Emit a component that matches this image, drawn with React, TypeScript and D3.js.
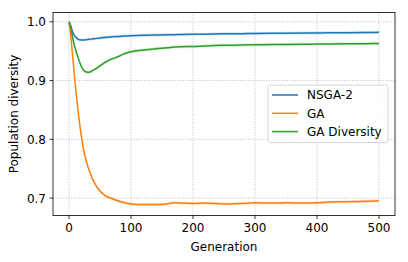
import React, { useRef, useEffect } from "react";
import * as d3 from "d3";

const generations = [0, 3, 6, 10, 15, 20, 25, 30, 35, 40, 50, 60, 70, 80, 90, 100, 120, 140, 160, 170, 180, 200, 220, 250, 280, 300, 330, 350, 380, 400, 420, 450, 480, 500];

const nsga2 = [1.0, 0.993, 0.982, 0.975, 0.970, 0.969, 0.9692, 0.9698, 0.9705, 0.971, 0.9725, 0.9735, 0.9745, 0.975, 0.9757, 0.9762, 0.977, 0.9775, 0.978, 0.978, 0.9783, 0.9787, 0.979, 0.9795, 0.9798, 0.98, 0.9803, 0.9805, 0.9808, 0.981, 0.9812, 0.9815, 0.9818, 0.982];

const ga = [1.0, 0.975, 0.94, 0.895, 0.845, 0.805, 0.775, 0.755, 0.74, 0.728, 0.712, 0.703, 0.699, 0.695, 0.692, 0.690, 0.689, 0.689, 0.6905, 0.692, 0.6915, 0.691, 0.6915, 0.690, 0.691, 0.692, 0.6915, 0.692, 0.6915, 0.692, 0.6935, 0.694, 0.6945, 0.6955];

const gaDiversity = [1.0, 0.99, 0.972, 0.955, 0.938, 0.924, 0.916, 0.914, 0.915, 0.918, 0.925, 0.932, 0.937, 0.941, 0.946, 0.949, 0.952, 0.954, 0.956, 0.957, 0.9575, 0.958, 0.959, 0.96, 0.9605, 0.961, 0.9612, 0.9615, 0.9618, 0.962, 0.9622, 0.9625, 0.9628, 0.963];

const seriesNames = ["NSGA-2", "GA", "GA Diversity"];
const seriesColors = ["#1f77b4", "#ff7f0e", "#2ca02c"];
const xTicks = [0, 100, 200, 300, 400, 500];
const yTicks = [0.7, 0.8, 0.9, 1.0];

const App = () => {
  const ref = useRef<SVGSVGElement>(null);

  useEffect(() => {
    const svg = d3.select(ref.current);
    svg.selectAll("*").remove();

    const left = 53, right = 395, top = 12.5, bottom = 215.5;
    const x = d3.scaleLinear().domain([-25.8, 525.8]).range([left, right]);
    const y = d3.scaleLinear().domain([0.6704, 1.0158]).range([bottom, top]);

    const font = "DejaVu Sans, sans-serif";
    const fs = 12;

    // grid
    const grid = svg.append("g");
    xTicks.forEach((t) => {
      grid.append("line")
        .attr("x1", x(t)).attr("x2", x(t))
        .attr("y1", top).attr("y2", bottom)
        .attr("stroke", "#b0b0b0").attr("stroke-width", 0.8)
        .attr("stroke-dasharray", "1,1.6");
    });
    yTicks.forEach((t) => {
      grid.append("line")
        .attr("x1", left).attr("x2", right)
        .attr("y1", y(t)).attr("y2", y(t))
        .attr("stroke", "#b0b0b0").attr("stroke-width", 0.8)
        .attr("stroke-dasharray", "1,1.6");
    });

    const all = [nsga2, ga, gaDiversity];
    all.forEach((vals, i) => {
      const pts = generations.map((g, j) => [g, vals[j]] as [number, number]);
      const band = d3.area<[number, number]>()
        .x((d) => x(d[0]))
        .y0((d) => y(d[1] - 0.0025))
        .y1((d) => y(d[1] + 0.0025))
        .curve(d3.curveMonotoneX);
      svg.append("path").attr("d", band(pts))
        .attr("fill", seriesColors[i]).attr("opacity", 0.2);
      const line = d3.line<[number, number]>()
        .x((d) => x(d[0])).y((d) => y(d[1]))
        .curve(d3.curveMonotoneX);
      svg.append("path").attr("d", line(pts))
        .attr("fill", "none").attr("stroke", seriesColors[i])
        .attr("stroke-width", 1.5);
    });

    // spines
    svg.append("rect")
      .attr("x", left).attr("y", top)
      .attr("width", right - left).attr("height", bottom - top)
      .attr("fill", "none").attr("stroke", "#000").attr("stroke-width", 0.8);

    // ticks
    xTicks.forEach((t) => {
      svg.append("line").attr("x1", x(t)).attr("x2", x(t))
        .attr("y1", bottom).attr("y2", bottom + 3.5)
        .attr("stroke", "#000").attr("stroke-width", 0.8);
      svg.append("text").attr("x", x(t)).attr("y", bottom + 16.5)
        .attr("text-anchor", "middle").attr("font-family", font)
        .attr("font-size", fs).text(String(t));
    });
    yTicks.forEach((t) => {
      svg.append("line").attr("x1", left - 3.5).attr("x2", left)
        .attr("y1", y(t)).attr("y2", y(t))
        .attr("stroke", "#000").attr("stroke-width", 0.8);
      svg.append("text").attr("x", left - 7).attr("y", y(t) + 4.4)
        .attr("text-anchor", "end").attr("font-family", font)
        .attr("font-size", fs).text(t.toFixed(1));
    });

    svg.append("text").attr("x", (left + right) / 2).attr("y", 250.5)
      .attr("text-anchor", "middle").attr("font-family", font)
      .attr("font-size", fs).text("Generation");
    svg.append("text")
      .attr("transform", `translate(17.5, ${(top + bottom) / 2}) rotate(-90)`)
      .attr("text-anchor", "middle").attr("font-family", font)
      .attr("font-size", fs).text("Population diversity");

    // legend
    const lg = svg.append("g");
    lg.append("rect").attr("x", 268).attr("y", 85)
      .attr("width", 120).attr("height", 57.5).attr("rx", 2)
      .attr("fill", "#fff").attr("fill-opacity", 0.8)
      .attr("stroke", "#cccccc").attr("stroke-width", 0.8);
    seriesNames.forEach((name, i) => {
      const yy = 95 + i * 18.3;
      lg.append("line").attr("x1", 272).attr("x2", 298)
        .attr("y1", yy).attr("y2", yy)
        .attr("stroke", seriesColors[i]).attr("stroke-width", 1.5);
      lg.append("text").attr("x", 307).attr("y", yy + 4.4)
        .attr("font-family", font).attr("font-size", fs).text(name);
    });
  }, []);

  return (
    <svg ref={ref} width={408} height={262}
      style={{ position: "absolute", left: 0, top: 0, background: "#fff" }} />
  );
};

export default App;
